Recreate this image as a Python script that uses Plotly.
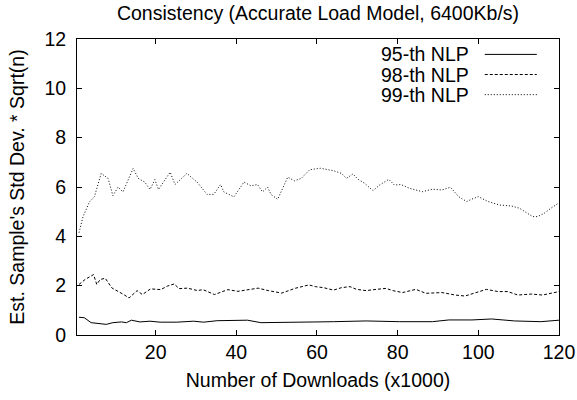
import plotly.graph_objects as go

# ---- data ----
x95 = [1, 2.3, 4, 6.1, 7.75, 9.4, 11.5, 12.75, 14, 16.1, 18.6, 21.1, 25.25, 29.4, 31.9,
       35.25, 39.4, 42.75, 46.1, 50.25, 54.4, 60, 64.1, 72.2, 80.4, 88.6, 92.7, 98.4,
       103.3, 109, 115.5, 120]
y95 = [0.72, 0.7, 0.5, 0.47, 0.43, 0.5, 0.53, 0.5, 0.6, 0.53, 0.56, 0.52, 0.52, 0.56, 0.52,
       0.58, 0.58, 0.6, 0.5, 0.5, 0.53, 0.53, 0.54, 0.57, 0.54, 0.54, 0.61, 0.61,
       0.65, 0.57, 0.54, 0.6]

x98 = [1, 2.5, 4.6, 5.4, 6.25, 7.5, 9.2, 10.8, 12.1, 13.4, 15.4, 16.7, 18.75, 21.25, 22.9,
       24.6, 25.8, 27.9, 30.4, 31.7, 34.6, 37.9, 40.4, 45.4, 47.9, 51.25, 54.75, 58.0, 59.6,
       61.6, 64.1, 66.1, 68.2, 69.8, 72.2, 74.7, 77.1, 78.8, 81.2, 84.5, 87, 91, 94.3, 96.7,
       99.2, 102, 104.9, 107.3, 109.8, 113.1, 115.9, 118, 120]
y98 = [2.05, 2.25, 2.45, 2.05, 2.25, 2.3, 1.9, 1.77, 1.64, 1.5, 1.8, 1.64, 1.87, 1.84, 1.98,
       2.07, 1.88, 1.9, 1.8, 1.84, 1.64, 1.84, 1.77, 1.9, 1.8, 1.7, 1.9, 2.03, 1.96,
       1.92, 1.82, 1.92, 1.96, 1.85, 1.80, 1.85, 1.89, 1.8, 1.72, 1.85, 1.69, 1.72, 1.62, 1.58,
       1.72, 1.85, 1.76, 1.76, 1.62, 1.66, 1.62, 1.69, 1.76]

x99 = [1, 2, 3.6, 4.8, 6.5, 8.2, 9.4, 10.7, 11.9, 14.4, 15.7, 17.3, 18.6, 19.8, 20.7, 21.9,
       23.6, 24.8, 27.75, 30.25, 32.75, 34.4, 36.1, 36.9, 39.4, 41.9, 43.6, 45.25, 46.5,
       47.75, 48.6, 50.25, 52.75, 54.4, 56.1, 58.2, 60.8, 64.1, 66.1, 67.3, 68.9, 70.2, 71.8,
       73.9, 75.5, 77.8, 79.2, 80.8, 82.9, 86.1, 88.6, 91.0, 93.1, 95.1, 97.1, 98.4, 100,
       102.4, 105.3, 108.2, 110.2, 112.2, 113.5, 114.7, 116.3, 118, 120]
y99 = [4.15, 4.8, 5.4, 5.6, 6.55, 6.35, 5.65, 6.0, 5.8, 6.75, 6.35, 6.2, 5.9, 6.3, 5.9, 6.2,
       6.6, 6.1, 6.55, 6.2, 5.7, 5.7, 6.1, 5.8, 5.6, 6.2, 6.05, 6.1, 5.8,
       6.0, 5.7, 5.5, 6.4, 6.25, 6.35, 6.7, 6.76, 6.66, 6.55, 6.35, 6.53, 6.31, 6.15,
       5.85, 6.08, 6.31, 6.08, 6.1, 5.95, 5.81, 5.91, 5.88, 5.99, 5.61, 5.41, 5.51, 5.61,
       5.41, 5.27, 5.23, 5.14, 4.93, 4.80, 4.80, 4.93, 5.14, 5.36]

series_names = ["95-th NLP", "98-th NLP", "99-th NLP"]
series_dash = ["solid", "3px,2px", "1px,2px"]

xticks = [20, 40, 60, 80, 100, 120]
yticks = [0, 2, 4, 6, 8, 10, 12]

FONT = "Liberation Sans, Arial, Helvetica, sans-serif"
FS = 19.5

fig = go.Figure()
for xs, ys, nm, dsh in zip([x95, x98, x99], [y95, y98, y99], series_names, series_dash):
    fig.add_trace(go.Scatter(x=xs, y=ys, mode="lines", name=nm,
                             line=dict(color="black", width=1, dash=dsh),
                             showlegend=False))

# gnuplot-style key: text right, line sample to the right of it
key_rows_y = [0.948, 0.880, 0.812]
for nm, dsh, ky in zip(series_names, series_dash, key_rows_y):
    fig.add_annotation(x=0.818, y=ky, xref="paper", yref="paper", text=nm,
                       showarrow=False, xanchor="right", yanchor="middle",
                       font=dict(family=FONT, size=FS, color="black"))
    fig.add_shape(type="line", xref="paper", yref="paper",
                  x0=0.846, x1=0.954, y0=ky, y1=ky,
                  line=dict(color="black", width=1, dash=dsh))

axis_common = dict(showline=True, linecolor="black", linewidth=1, mirror="ticks",
                   ticks="inside", ticklen=5, tickcolor="black", tickwidth=1,
                   showgrid=False, zeroline=False,
                   tickfont=dict(family=FONT, size=FS, color="black"))

fig.update_layout(
    width=577, height=400,
    margin=dict(l=77, r=18, t=39, b=65, autoexpand=False),
    paper_bgcolor="white", plot_bgcolor="white",
    title=dict(text="Consistency (Accurate Load Model, 6400Kb/s)",
               x=0.5, xref="paper", y=1 - 13 / 400, yref="container",
               xanchor="center", yanchor="middle",
               font=dict(family=FONT, size=FS, color="black")),
    xaxis=dict(range=[0.5, 120], tickvals=xticks, ticktext=[str(v) for v in xticks],
               title=dict(text="Number of Downloads (x1000)", standoff=10,
                          font=dict(family=FONT, size=FS, color="black")),
               **axis_common),
    yaxis=dict(range=[0, 12], tickvals=yticks, ticktext=[str(v) for v in yticks],
               ticklabelstandoff=6,
               title=dict(text="Est. Sample's Std Dev. * Sqrt(n)", standoff=14,
                          font=dict(family=FONT, size=FS, color="black")),
               **axis_common),
)

fig.write_html("out.html")
